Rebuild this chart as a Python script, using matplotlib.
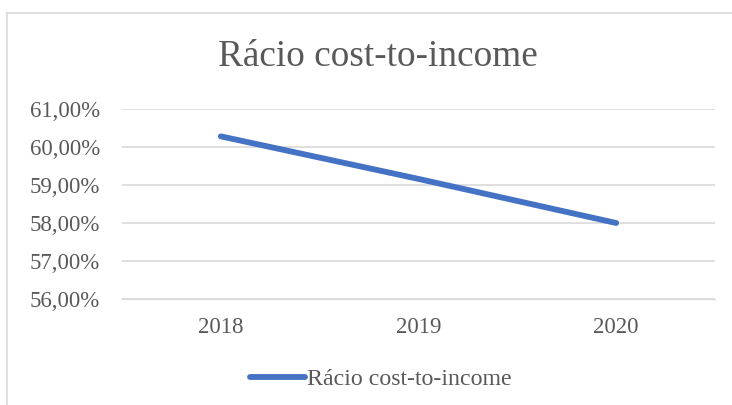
import matplotlib.pyplot as plt
from matplotlib.lines import Line2D
from matplotlib.ticker import FuncFormatter

# dados
anos = ['2018', '2019', '2020']
racio = [60.28, 59.16, 58.00]
serie = 'Rácio cost-to-income'

plt.rcParams['font.family'] = ['Liberation Serif', 'DejaVu Serif']

W, H = 732, 405
fig = plt.figure(figsize=(W / 100, H / 100), dpi=100)

# moldura do gráfico (estilo Excel)
fig.add_artist(Line2D([7.5 / W, 7.5 / W], [0, 1 - 12.5 / H], color='#d9d9d9', lw=1.2, transform=fig.transFigure))
fig.add_artist(Line2D([7.5 / W, 1], [1 - 12.5 / H, 1 - 12.5 / H], color='#d9d9d9', lw=1.2, transform=fig.transFigure))

ax = fig.add_axes([122 / W, (H - 299) / H, (715 - 122) / W, (299 - 109) / H])

x = range(len(anos))
ax.plot(x, racio, color='#4472C4', lw=4.2, solid_capstyle='round', label=serie)

ax.set_xlim(-0.5, len(anos) - 0.5)
ax.set_ylim(56, 61)
ax.set_yticks([56, 57, 58, 59, 60, 61])
ax.yaxis.set_major_formatter(FuncFormatter(lambda v, p: f'{v:.2f}%'.replace('.', ',')))
ax.set_xticks(list(x))
ax.set_xticklabels(anos)

ax.grid(axis='y', color='#d9d9d9', lw=1.2)
ax.set_axisbelow(True)
for s in ax.spines.values():
    s.set_visible(False)
ax.spines['bottom'].set_visible(True)
ax.spines['bottom'].set_color('#d9d9d9')
ax.tick_params(length=0, labelsize=16.5, labelcolor='#595959')
ax.tick_params(axis='x', pad=13)
ax.tick_params(axis='y', pad=16)

fig.text(378 / W, 1 - 57 / H, serie, ha='center', va='center', fontsize=26.8, color='#595959')

fig.legend(handles=[Line2D([], [], color='#4472C4', lw=4.2, solid_capstyle='round')],
           labels=[serie], loc='center', bbox_to_anchor=(381 / W, 1 - 379 / H),
           frameon=False, fontsize=17.2, labelcolor='#595959',
           handlelength=2.3, handletextpad=0.1)

fig.savefig('out.png', dpi=100)
